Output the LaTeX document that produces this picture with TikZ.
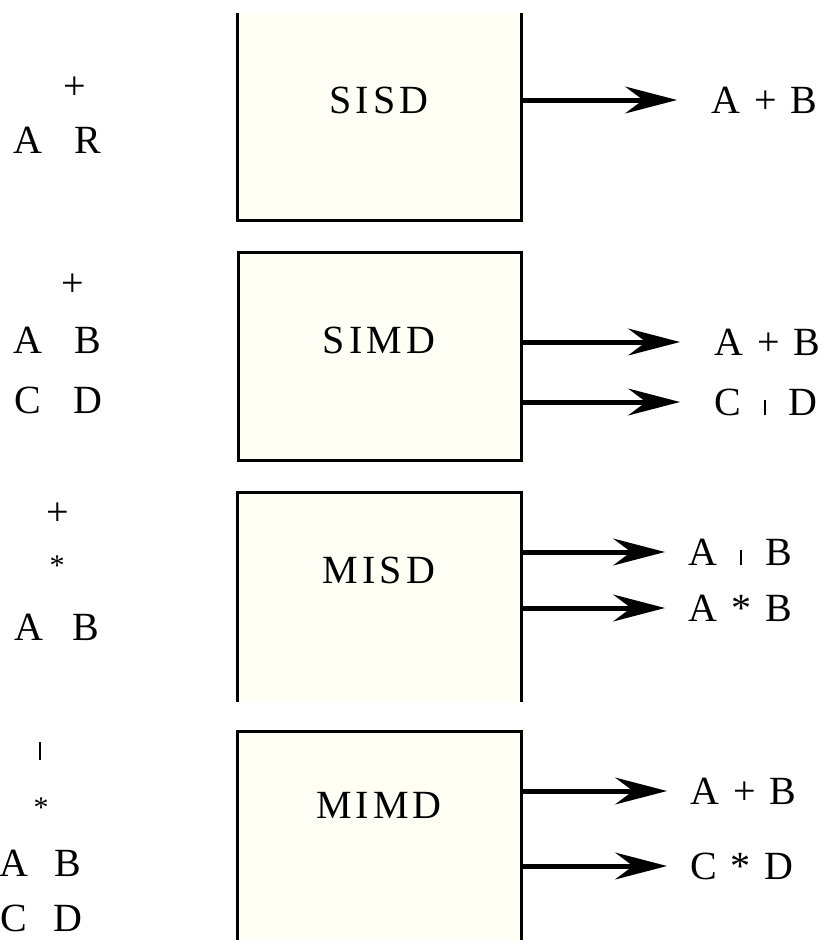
\documentclass[tikz,border=0pt]{standalone}
\usepackage{fontspec}
\usetikzlibrary{arrows.meta}
\newfontfamily\labelfont[LetterSpace=10]{Liberation Serif}
\definecolor{boxfill}{RGB}{255,255,246}
% short upright bar used in place of a broken plus sign
\newcommand\shortbar{\makebox[0.5em]{\rule{2.2bp}{15bp}}}
\begin{document}
\begin{tikzpicture}[x=1bp,y=-1bp,
  unitbox/.style={fill=boxfill, inner sep=0pt, minimum width=283bp},
  rim/.style={draw=black, line width=3bp, line join=miter},
  unitname/.style={font=\labelfont\fontsize{40bp}{46bp}\selectfont, inner sep=0pt},
  symtext/.style={font=\labelfont\fontsize{40bp}{46bp}\selectfont, inner sep=0pt},
  tinysym/.style={font=\labelfont\fontsize{30bp}{34bp}\selectfont, inner sep=0pt},
  flow/.style={line width=5bp, -{Stealth[length=52bp,width=27bp,inset=18bp,line width=3bp]}},
]
\useasboundingbox (0,0) rectangle (831,940);

% ---------------- SISD ----------------
\node[unitbox, minimum height=207bp] (sisd) at (379.5,116.5) {};
\draw[rim] (sisd.north west) |- (sisd.south east) -- (sisd.north east);
\node[unitname] (sisdname) at (379,100) {SISD};
\node[symtext] (s1op) at (75,88) {+};
\node[symtext] (s1a) at (28,140) {A};
\node[symtext] (s1b) at (88,140) {R};
\node[symtext, anchor=west] (s1r) at (711,100) {A + B};
\coordinate (s1t) at (677,100);
\draw[flow] (sisd.east |- s1t) -- (s1t);

% ---------------- SIMD ----------------
\node[unitbox, minimum height=208bp, rim] (simd) at (379.5,356) {};
\node[unitname] (simdname) at (379,340) {SIMD};
\node[symtext] (s2op) at (73,285) {+};
\node[symtext] (s2a) at (28,340) {A};
\node[symtext] (s2b) at (88,340) {B};
\node[symtext] (s2c) at (28,400) {C};
\node[symtext] (s2d) at (88,400) {D};
\node[symtext, anchor=west] (s2r1) at (714,342) {A + B};
\node[symtext, anchor=west] (s2r2) at (714,402) {C \shortbar{} D};
\coordinate (s2t1) at (680,342);
\coordinate (s2t2) at (680,402);
\draw[flow] (simd.east |- s2t1) -- (s2t1);
\draw[flow] (simd.east |- s2t2) -- (s2t2);

% ---------------- MISD ----------------
\node[unitbox, minimum height=209bp] (misd) at (379.5,597.5) {};
\draw[rim] (misd.south west) |- (misd.north east) -- (misd.south east);
\node[unitname] (misdname) at (379,570) {MISD};
\node[symtext] (m1op) at (58,514) {+};
\node[tinysym] (m1op2) at (57,566) {*};
\node[symtext] (m1a) at (29,627) {A};
\node[symtext] (m1b) at (86,627) {B};
\node[symtext, anchor=west] (m1r1) at (688,552) {A \shortbar{} B};
\node[symtext, anchor=west] (m1r2) at (688,608) {A * B};
\coordinate (m1t1) at (665,552);
\coordinate (m1t2) at (665,608);
\draw[flow] (misd.east |- m1t1) -- (m1t1);
\draw[flow] (misd.east |- m1t2) -- (m1t2);

% ---------------- MIMD ----------------
\node[unitbox, minimum height=214bp] (mimd) at (379.5,839) {};
\draw[rim] (mimd.south west) |- (mimd.north east) -- (mimd.south east);
\node[unitname] (mimdname) at (379,805) {MIMD};
\node[inner sep=0pt] (m2op) at (40,751) {\rule{2.5bp}{18bp}};
\node[tinysym] (m2op2) at (41,808) {*};
\node[symtext] (m2a) at (14,863) {A};
\node[symtext] (m2b) at (68,863) {B};
\node[symtext] (m2c) at (14,918) {C};
\node[symtext] (m2d) at (68,918) {D};
\node[symtext, anchor=west] (m2r1) at (690,791) {A + B};
\node[symtext, anchor=west] (m2r2) at (690,866) {C * D};
\coordinate (m2t1) at (667,791);
\coordinate (m2t2) at (667,866);
\draw[flow] (mimd.east |- m2t1) -- (m2t1);
\draw[flow] (mimd.east |- m2t2) -- (m2t2);
\end{tikzpicture}
\end{document}
